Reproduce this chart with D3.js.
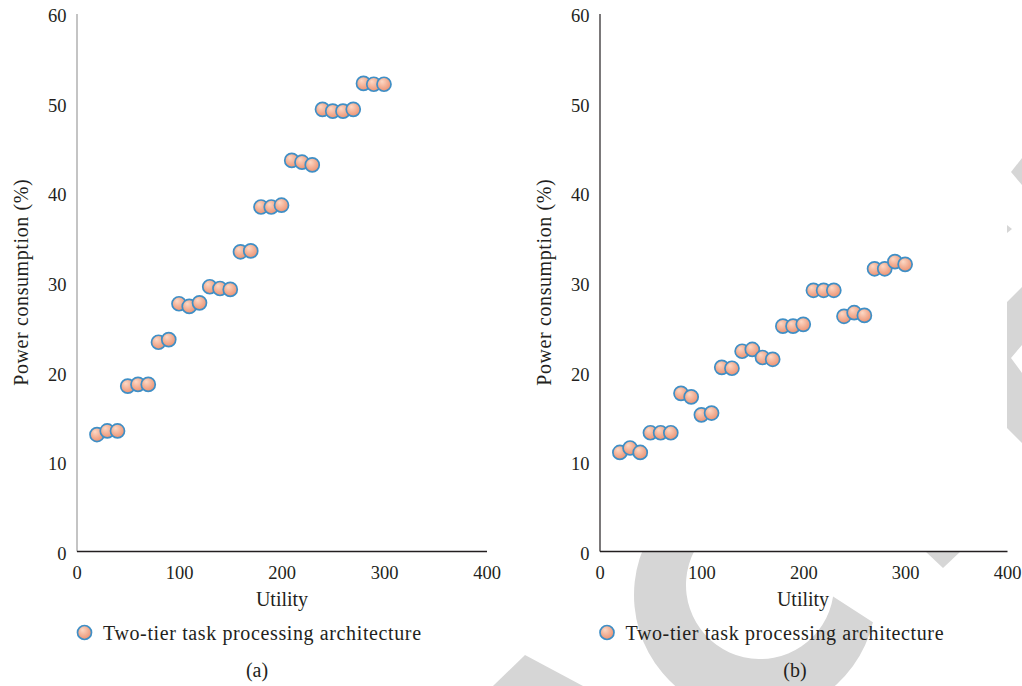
<!DOCTYPE html>
<html><head><meta charset="utf-8">
<script src="https://cdn.jsdelivr.net/npm/d3@7"></script>
<style>
html,body{margin:0;padding:0;background:#fff;}
svg{display:block;}
</style></head>
<body>
<svg id="chart" width="1022" height="686"></svg>
<script>
// ---- data ----
const utility = [20,30,40,50,60,70,80,90,100,110,120,130,140,150,160,170,180,190,200,210,220,230,240,250,260,270,280,290,300];
const powerA = [13.0,13.4,13.4,18.4,18.6,18.6,23.3,23.6,27.6,27.3,27.7,29.5,29.3,29.2,33.4,33.5,38.4,38.4,38.6,43.6,43.4,43.1,49.3,49.1,49.1,49.3,52.2,52.1,52.1];
const powerB = [11.0,11.5,11.0,13.2,13.2,13.2,17.6,17.2,15.2,15.4,20.5,20.4,22.3,22.5,21.6,21.4,25.1,25.1,25.3,29.1,29.1,29.1,26.2,26.6,26.3,31.5,31.5,32.3,32.0];
const xTicks = [0,100,200,300,400];
const yTicks = [0,10,20,30,40,50,60];
const seriesName = "Two-tier task processing architecture";
const panelLabels = ["(a)","(b)"];
const xTitle = "Utility";
const yTitle = "Power consumption (%)";

const FONT = '"Liberation Serif", "Times New Roman", serif';
const INK = "#231f20";

const svg = d3.select("#chart");
const defs = svg.append("defs");
const grad = defs.append("radialGradient").attr("id","mk").attr("cx","45%").attr("cy","40%").attr("r","60%").attr("fx","35%").attr("fy","30%");
grad.append("stop").attr("offset","0%").attr("stop-color","#fcd9c6");
grad.append("stop").attr("offset","100%").attr("stop-color","#ec9272");

// ---- background watermark (decorative) ----
const wm = svg.append("g").attr("fill","#d6d6d6");
const deg = Math.PI/180;
const ring = d3.path();
ring.moveTo(755 + 121*Math.cos(13*deg), 595 + 121*Math.sin(13*deg));
ring.arc(755, 595, 121, 13*deg, 290*deg, false);
ring.lineTo(760 + 74*Math.cos(290*deg), 585 + 74*Math.sin(290*deg));
ring.arc(760, 585, 74, 290*deg, 9*deg, true);
ring.closePath();
wm.append("path").attr("d", ring.toString());
wm.append("polygon").attr("points","493,686 525,655 583,686");
wm.append("polygon").attr("points","925,551 943,568 961,551");
wm.append("polygon").attr("points","1022,158 1011,172 1022,185");
wm.append("polygon").attr("points","1007,225 1012,229 1007,233");
wm.append("polygon").attr("points","1007,302 1022,287 1022,345 1011,358 1022,373 1022,443 1007,428");

// ---- panels ----
const panels = [
  {data: powerA, x0:76.5, x1:486.5, yAxisColor:"#9d9d9d", legendX:84.5, titleX:21, label:panelLabels[0], labelX:257, xTitleX:282},
  {data: powerB, x0:599.5, x1:1007, yAxisColor:INK, legendX:607, titleX:544, label:panelLabels[1], labelX:795, xTitleX:803}
];
const yTop = 13.5, yBot = 551;

function styleText(sel, size){
  return sel.style("font-family",FONT).style("font-size",size+"px").style("fill",INK);
}

panels.forEach(p => {
  const x = d3.scaleLinear().domain([0,400]).range([p.x0,p.x1]);
  const y = d3.scaleLinear().domain([0,60]).range([yBot,yTop]);
  const g = svg.append("g");
  g.append("rect").attr("x",p.x0).attr("y",yTop).attr("width",p.x1-p.x0).attr("height",yBot-yTop).attr("fill","#fff");

  // y axis
  const ya = g.append("g").attr("transform",`translate(${p.x0},0)`)
    .call(d3.axisLeft(y).tickValues(yTicks).tickSize(0).tickPadding(10).tickFormat(d3.format("d")));
  ya.select(".domain").attr("stroke",p.yAxisColor).attr("stroke-width",1.2);
  styleText(ya.selectAll("text"),18.5).attr("dy","0.45em");

  // x axis
  const xa = g.append("g").attr("transform",`translate(0,${yBot})`)
    .call(d3.axisBottom(x).tickValues(xTicks).tickSize(0).tickPadding(10).tickFormat(d3.format("d")));
  xa.select(".domain").attr("stroke",INK).attr("stroke-width",1.3);
  styleText(xa.selectAll("text"),18.5).attr("dy","0.95em");

  // titles
  styleText(g.append("text").attr("x",p.xTitleX).attr("y",606).attr("text-anchor","middle"),20).text(xTitle);
  styleText(g.append("text").attr("transform",`translate(${p.titleX + 7},${(yTop+yBot)/2}) rotate(-90)`)
    .attr("text-anchor","middle"),20).style("letter-spacing","0.6px").text(yTitle);

  // points
  g.append("g").selectAll("circle").data(utility.map((u,i)=>({u, v:p.data[i]}))).join("circle")
    .attr("cx",d=>x(d.u)).attr("cy",d=>y(d.v)).attr("r",7)
    .attr("fill","url(#mk)").attr("stroke","#3f8fc6").attr("stroke-width",1.7);

  // legend
  g.append("circle").attr("cx",p.legendX).attr("cy",632.5).attr("r",7)
    .attr("fill","url(#mk)").attr("stroke","#3f8fc6").attr("stroke-width",1.7);
  styleText(g.append("text").attr("x",p.legendX+18.5).attr("y",639.5),20).style("letter-spacing","0.62px").text(seriesName);

  // panel label
  styleText(g.append("text").attr("x",p.labelX).attr("y",677).attr("text-anchor","middle"),20).text(p.label);
});
</script>
</body></html>
